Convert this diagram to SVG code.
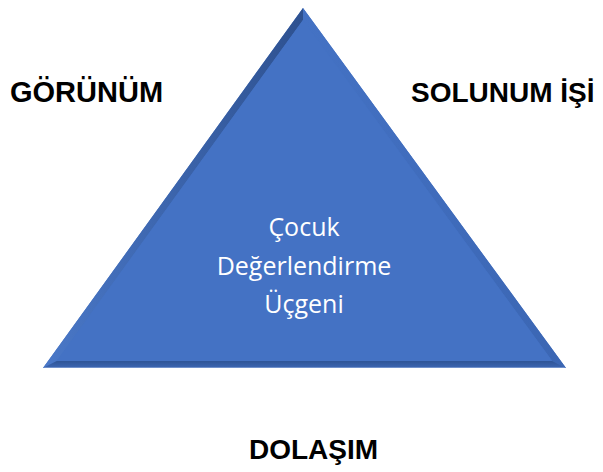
<svg xmlns="http://www.w3.org/2000/svg" width="603" height="472" viewBox="0 0 603 472">
<defs>
<style>
.lbl{font-family:"Liberation Sans",Arial,sans-serif;font-weight:bold;font-size:28px;fill:#000}
.ctr{font-family:"Open Sans","Noto Sans",sans-serif;font-size:25px;fill:#fff;text-anchor:middle}
</style>
<linearGradient id="gl" x1="0" y1="0" x2="1" y2="0" gradientUnits="objectBoundingBox">
<stop offset="0" stop-color="#4A78C8"/><stop offset="1" stop-color="#2E5190"/>
</linearGradient>
<linearGradient id="gb" x1="0" y1="0" x2="0" y2="1">
<stop offset="0" stop-color="#2F5597"/><stop offset="0.8" stop-color="#3A63AD"/><stop offset="1" stop-color="#8FAADC"/>
</linearGradient>
<linearGradient id="gr" x1="0" y1="0" x2="1" y2="0">
<stop offset="0" stop-color="#4472C4"/><stop offset="1" stop-color="#3B66B3"/>
</linearGradient>
</defs>
<g id="triangle">
<polygon points="303,8 43,368 566,368" fill="#4472C4"/>
<polygon points="303,8 43,368 56.7,361 303,19.9" fill="url(#gl)"/>
<polygon points="303,8 303,19.9 552.2,361 566,368" fill="url(#gr)"/>
<polygon points="43,368 566,368 552.2,361 56.7,361" fill="url(#gb)"/>
<polygon points="303,19.9 56.7,361 552.2,361" fill="#4472C4"/>
<text class="ctr" x="304" y="236">Çocuk</text>
<text class="ctr" x="304" y="275">Değerlendirme</text>
<text class="ctr" x="304" y="313">Üçgeni</text>
</g>
<g id="gorunum"><text class="lbl" x="10" y="102" style="font-size:29px">GÖRÜNÜM</text></g>
<g id="solunum"><text class="lbl" x="411" y="102">SOLUNUM İŞİ</text></g>
<g id="dolasim"><text class="lbl" x="249" y="459">DOLAŞIM</text></g>
<g id="connectors"/>
</svg>
